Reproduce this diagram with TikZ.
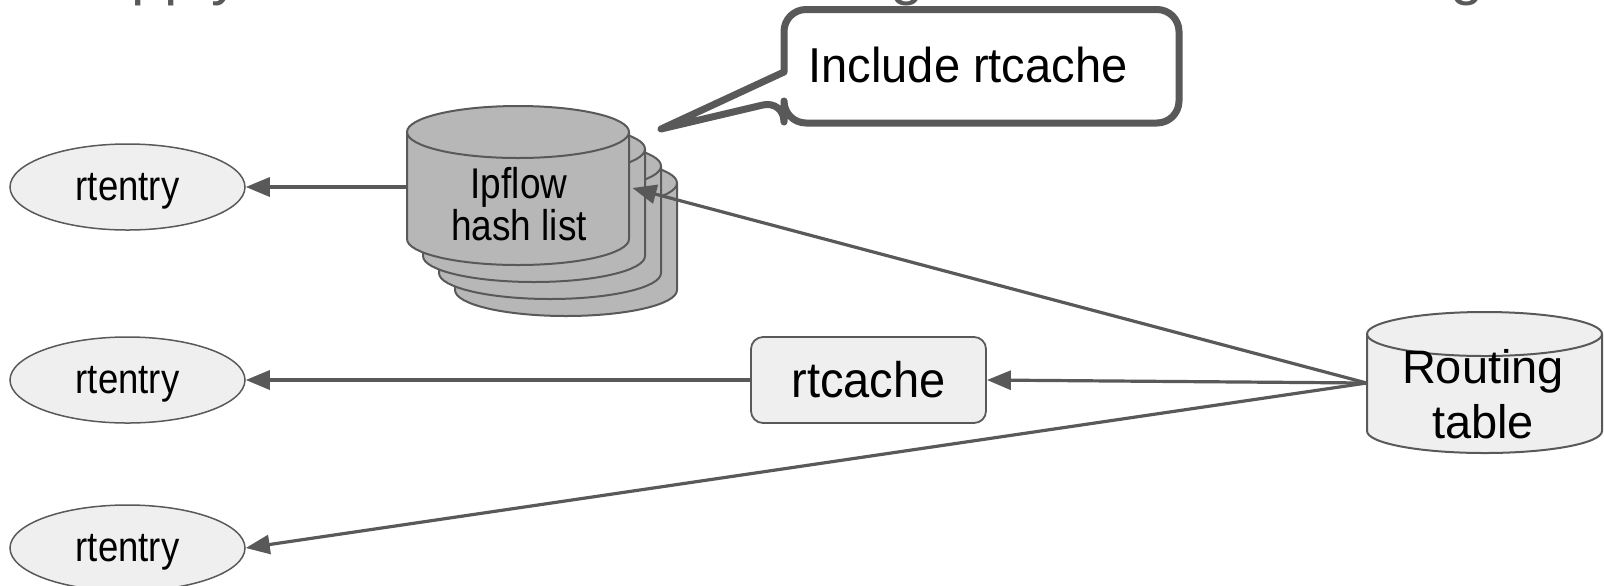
\documentclass[tikz,border=0pt]{standalone}
\usepackage{fontspec}
\usepackage{graphicx}
\setmainfont{Liberation Sans}
\usetikzlibrary{arrows.meta,shapes.geometric}
\definecolor{edge}{HTML}{595959}
\definecolor{light}{HTML}{EFEFEF}
\definecolor{mid}{HTML}{B7B7B7}
% cylinder: centre x, top-ellipse y, bottom-ellipse y, half width, half height of ellipse (px), fill
\newcommand\drumshape[6]{%
  \pgfmathsetmacro\drx{#4*0.5}%
  \pgfmathsetmacro\dry{#5*0.5}%
  \filldraw[draw=edge,line width=1pt,fill=#6]
    (#1-#4,#2) -- (#1-#4,#3)
    arc[start angle=180,end angle=360,x radius=\drx pt,y radius=\dry pt]
    -- (#1+#4,#2)
    arc[start angle=0,end angle=180,x radius=\drx pt,y radius=\dry pt] -- cycle;
  \draw[edge,line width=1pt] (#1-#4,#2)
    arc[start angle=180,end angle=360,x radius=\drx pt,y radius=\dry pt];
}
% narrow lettering used in the small labels
\newcommand\narrowtext[2]{\scalebox{#1}[1]{#2}}
\tikzset{
  oval/.style={ellipse,draw=edge,line width=0.75pt,fill=light,
    minimum width=117.5pt,minimum height=43pt,inner sep=0pt,text depth=0pt,
    font=\fontsize{21}{23}\selectfont},
  cachebox/.style={rectangle,rounded corners=6pt,draw=edge,line width=0.9pt,fill=light,
    minimum width=117.5pt,minimum height=43pt,inner sep=0pt,
    font=\fontsize{25}{28}\selectfont},
  holder/.style={rectangle,inner sep=0pt},
  arr/.style={edge,line width=1.6pt,-{Triangle[length=12pt,width=9.5pt]}},
  headline/.style={anchor=base west,inner sep=0pt,text=edge,font=\fontsize{30}{34}\selectfont},
}
\begin{document}
\begin{tikzpicture}[x=0.5pt,y=-0.5pt]
\useasboundingbox (0,0) rectangle (1604,585);
\clip (0,0) rectangle (1604,585);

% heading, mostly above the page
\node[headline] (h1) at (131,-6.6) {pply};
\node[headline] (h2) at (890,-6.6) {g};
\node[headline] (h3) at (1450,-6.6) {g};

% left-hand entries
\node[oval] (e1) at (127.5,187) {\narrowtext{0.87}{rtentry}};
\node[oval] (e2) at (127.5,380) {\narrowtext{0.87}{rtentry}};
\node[oval] (e3) at (127.5,548) {\narrowtext{0.87}{rtentry}};

% stacked flow hash lists
\foreach \k in {3,2,1}{
  \drumshape{518+16*\k}{132+17*\k}{239+17*\k}{111}{26}{mid}
}
\drumshape{518}{132}{239}{111}{26}{mid}
\node[holder,minimum width=111pt,minimum height=80pt] (ipf) at (518,187) {};
\node[inner sep=0pt,align=center,font=\fontsize{21.5}{17.5}\selectfont] (ipft) at (519,204)
  {\narrowtext{0.86}{Ipflow}\\\narrowtext{0.86}{hash list}};

% routing table
\drumshape{1484.5}{334}{431}{117.5}{22}{light}
\node[holder,minimum width=117.5pt,minimum height=60pt] (rt) at (1484.5,383) {};
\node[inner sep=0pt,align=center,font=\fontsize{23.5}{27.5}\selectfont] (rtt) at (1483,394) {Routing\\table};

% route cache
\node[cachebox] (rc) at (868.5,380) {\narrowtext{0.94}{rtcache}};

% connectors
\draw[arr] (ipf.west) -- (e1.east);
\draw[arr] (rc.west) -- (e2.east);
\draw[arr] (rt.west) -- (rc.east);
\draw[arr] (rt.west) -- ([xshift=1.5pt,yshift=-0.5pt]ipf.east);
\draw[arr] (rt.west) -- (e3.east);

% speech bubble
\filldraw[draw=edge,fill=white,line width=3.5pt,line join=round]
  (784,72) [rounded corners=11pt] -- (784,9.5) -- (1179,9.5) -- (1179,123) -- (784,123)
  -- (784,100) [sharp corners] -- (661,129) -- cycle;
\node[inner sep=0pt,font=\fontsize{24.5}{28}\selectfont] (note) at (968,65) {\narrowtext{0.96}{Include rtcache}};
\end{tikzpicture}
\end{document}
